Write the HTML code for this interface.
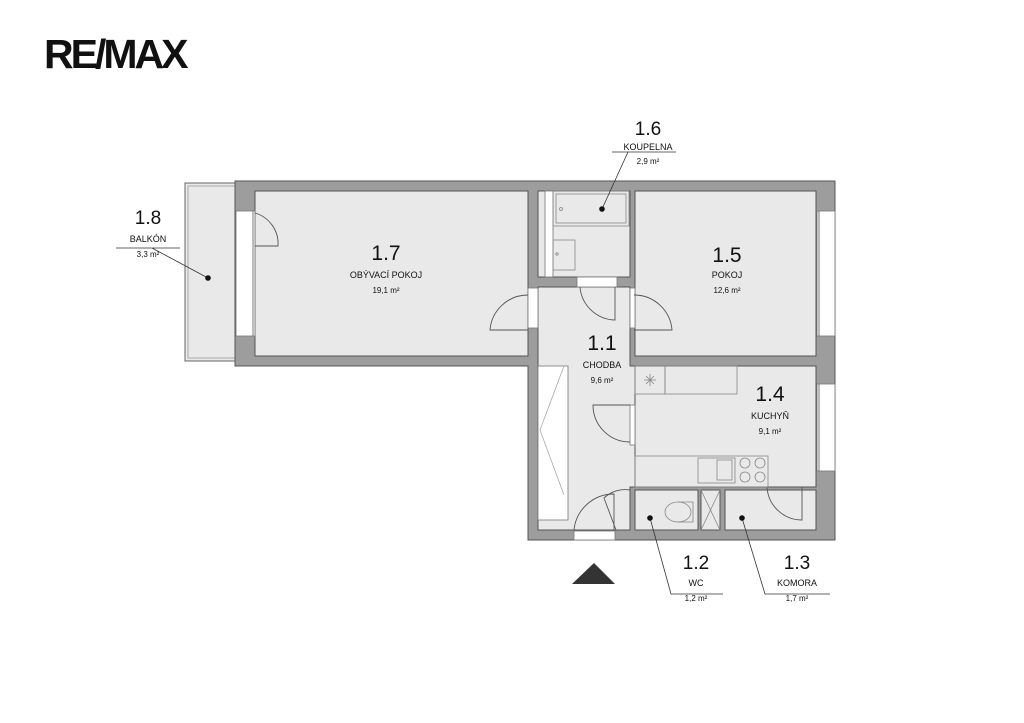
<!DOCTYPE html>
<html><head><meta charset="utf-8"><style>
body{margin:0;background:#fff;}
svg{display:block;font-family:"Liberation Sans",sans-serif;}
</style></head><body>
<svg width="1024" height="723" viewBox="0 0 1024 723">
<!-- logo -->
<text x="44" y="68" font-size="41" font-weight="bold" letter-spacing="-3" fill="#111">RE/MAX</text>
<!-- balcony -->
<rect x="185" y="183" width="50" height="178" fill="#e9e9e9" stroke="#666" stroke-width="1"/>
<rect x="188" y="186" width="47" height="172" fill="none" stroke="#999" stroke-width="0.8"/>
<!-- walls -->
<path d="M235 181 H835 V540 H528 V366 H235 Z" fill="#9d9d9d" stroke="#555" stroke-width="1"/>
<!-- rooms -->
<g fill="#e9e9e9" stroke="#555" stroke-width="1">
<rect x="255" y="191" width="273" height="165"/>
<rect x="538" y="191" width="92" height="86"/>
<rect x="635" y="191" width="181" height="165"/>
<path d="M538 287 H630 V366 H635 V487 H630 V530 H538 V366 H538 Z"/>
<rect x="635" y="366" width="181" height="121"/>
<rect x="635" y="490" width="63" height="40"/>
<rect x="701" y="490" width="19" height="40"/>
<rect x="725" y="490" width="91" height="40"/>
</g>
<!-- openings -->
<g fill="#fff" stroke="#777" stroke-width="0.8">
<rect x="236" y="211" width="19" height="125"/>
<rect x="817" y="211" width="18" height="125"/>
<rect x="817" y="384" width="18" height="87"/>
<rect x="528" y="288" width="10" height="40"/>
<rect x="630" y="288" width="5" height="40"/>
<rect x="577" y="277" width="40" height="10"/>
<rect x="630" y="405" width="5" height="40"/>
<rect x="574" y="531" width="41" height="9"/>
<rect x="545" y="191" width="8" height="86"/>
<rect x="538" y="366" width="30" height="154" fill="#fff"/>
</g>
<line x1="253" y1="211" x2="253" y2="336" stroke="#777"/>
<line x1="819" y1="211" x2="819" y2="336" stroke="#777"/>
<line x1="819" y1="384" x2="819" y2="471" stroke="#777"/>
<!-- closet -->
<path d="M564 366 L540 430 L564 495" fill="none" stroke="#aaa" stroke-width="0.8"/>
<!-- doors -->
<g fill="none" stroke="#555" stroke-width="0.9">
<path d="M255 246 H278 A32 32 0 0 0 255 213"/>
<path d="M528 295 A38 38 0 0 0 490 330 H528"/>
<path d="M634 295 A38 38 0 0 1 672 330 H634"/>
<path d="M580 287 A36 36 0 0 0 615 320 V287"/>
<path d="M630 405 H593 A37 37 0 0 0 630 442"/>
<path d="M574 530 A40 40 0 0 1 614 494 V530"/>
<path d="M616 530 L604 498 A30 30 0 0 1 630 490"/>
<path d="M767 487 A35 35 0 0 0 802 520 V487"/>
</g>
<!-- bathroom fixtures -->
<g fill="none" stroke="#888" stroke-width="0.8">
<rect x="553" y="191" width="76" height="35"/>
<rect x="556" y="194" width="70" height="29"/>
<rect x="553" y="240" width="22" height="30"/>
<circle cx="561" cy="209" r="1.5"/>
<circle cx="557" cy="254" r="1.2"/>
<!-- kitchen -->
<rect x="635" y="366" width="30" height="28"/>
<rect x="665" y="366" width="72" height="28"/>
<rect x="635" y="456" width="133" height="31"/>
<rect x="698" y="458" width="37" height="25"/>
<rect x="717" y="460" width="15" height="20"/>
<circle cx="745" cy="463" r="5"/><circle cx="760" cy="463" r="5"/>
<circle cx="745" cy="477" r="5"/><circle cx="760" cy="477" r="5"/>
<path d="M644 380 H656 M650 374 V386 M646 376 L654 384 M654 376 L646 384"/>
<!-- wc -->
<path d="M678 502 H693 V522 H678"/>
<ellipse cx="678" cy="512" rx="13" ry="10"/>
<path d="M701 490 L720 530 M720 490 L701 530"/>
</g>
<!-- leaders -->
<g stroke="#333" stroke-width="0.8" fill="none">
<path d="M612 152 H676 M628 152 L602 209"/>
<path d="M116 248 H180 M152 248 L208 278"/>
<path d="M650 518 L671 594 H723"/>
<path d="M742 518 L765 594 H830"/>
</g>
<g fill="#111">
<circle cx="602" cy="209" r="2.8"/><circle cx="208" cy="278" r="2.8"/>
<circle cx="650" cy="518" r="2.8"/><circle cx="742" cy="518" r="2.8"/>
</g>
<path d="M572 584 L594 563 L615 584 Z" fill="#333"/>
<!-- labels -->
<g text-anchor="middle" fill="#111">
<text x="648" y="135" font-size="19">1.6</text>
<text x="648" y="150" font-size="9">KOUPELNA</text>
<text x="648" y="164" font-size="8">2,9 m²</text>
<text x="148" y="224" font-size="19">1.8</text>
<text x="148" y="242" font-size="9">BALKÓN</text>
<text x="148" y="257" font-size="8">3,3 m²</text>
<text x="386" y="260" font-size="21">1.7</text>
<text x="386" y="278" font-size="9">OBÝVACÍ POKOJ</text>
<text x="386" y="293" font-size="8">19,1 m²</text>
<text x="727" y="262" font-size="21">1.5</text>
<text x="727" y="278" font-size="9">POKOJ</text>
<text x="727" y="293" font-size="8">12,6 m²</text>
<text x="602" y="350" font-size="21">1.1</text>
<text x="602" y="368" font-size="9">CHODBA</text>
<text x="602" y="383" font-size="8">9,6 m²</text>
<text x="770" y="401" font-size="21">1.4</text>
<text x="770" y="419" font-size="9">KUCHYŇ</text>
<text x="770" y="434" font-size="8">9,1 m²</text>
<text x="696" y="569" font-size="19">1.2</text>
<text x="696" y="586" font-size="9">WC</text>
<text x="696" y="601" font-size="8">1,2 m²</text>
<text x="797" y="569" font-size="19">1.3</text>
<text x="797" y="586" font-size="9">KOMORA</text>
<text x="797" y="601" font-size="8">1,7 m²</text>
</g>
</svg>
</body></html>
